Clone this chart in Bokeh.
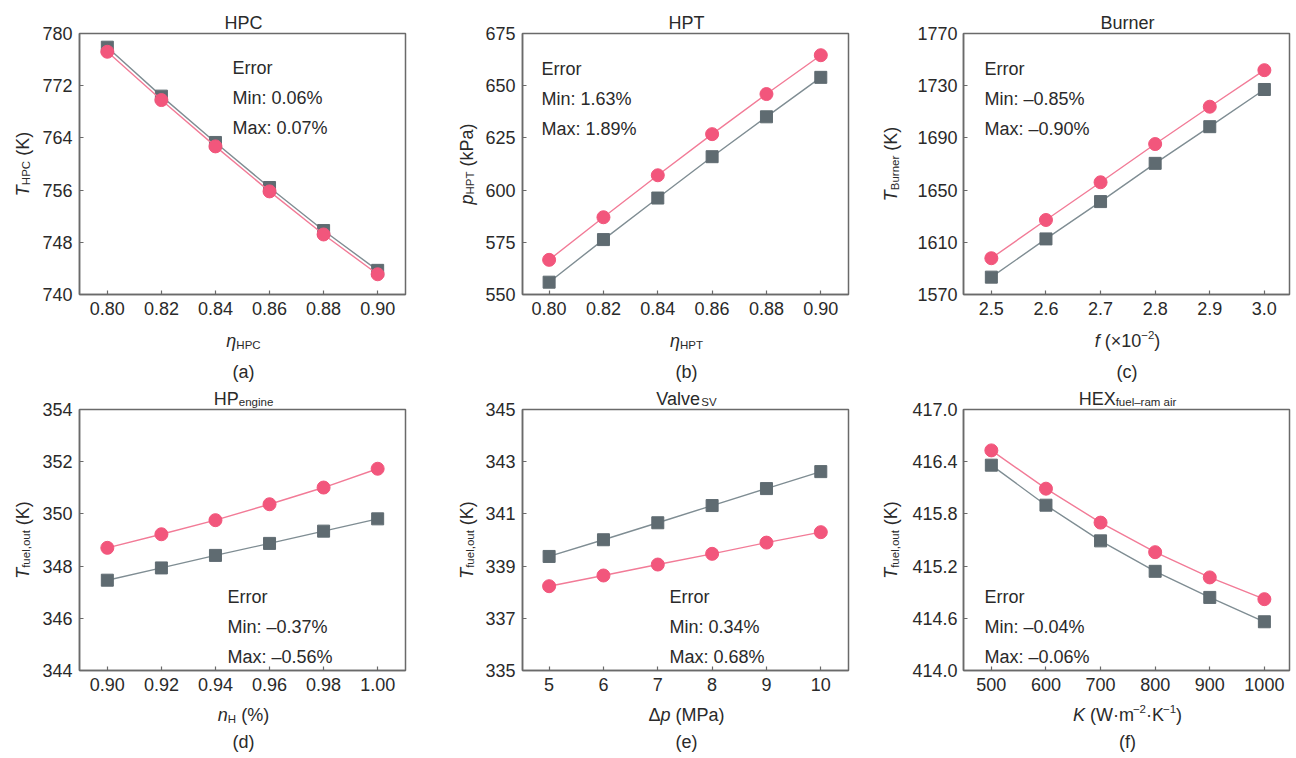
import math

from bokeh.embed import file_html
from bokeh.layouts import column, row
from bokeh.models import FixedTicker, Label, LinearAxis, NumeralTickFormatter, Range1d
from bokeh.plotting import figure
from bokeh.resources import INLINE

# ---------------------------------------------------------------- data
# (a) high-pressure compressor outlet temperature vs. efficiency
hpc_eta = [0.80, 0.82, 0.84, 0.86, 0.88, 0.90]
hpc_calc = [777.9, 770.4, 763.3, 756.4, 749.8, 743.7]
hpc_meas = [777.2, 769.8, 762.7, 755.8, 749.2, 743.1]

# (b) high-pressure turbine pressure vs. efficiency
hpt_eta = [0.80, 0.82, 0.84, 0.86, 0.88, 0.90]
hpt_calc = [555.9, 576.3, 596.2, 616.0, 635.1, 654.0]
hpt_meas = [566.6, 587.0, 607.1, 626.8, 646.0, 664.6]

# (c) burner temperature vs. fuel-air ratio (x 10^-2)
burner_f = [2.5, 2.6, 2.7, 2.8, 2.9, 3.0]
burner_calc = [1583.3, 1612.6, 1641.2, 1670.5, 1698.6, 1727.1]
burner_meas = [1597.8, 1627.1, 1656.0, 1685.3, 1713.9, 1741.9]

# (d) engine heat pump: fuel outlet temperature vs. n_H
hp_n = [0.90, 0.92, 0.94, 0.96, 0.98, 1.00]
hp_calc = [347.46, 347.93, 348.41, 348.87, 349.34, 349.81]
hp_meas = [348.70, 349.22, 349.76, 350.37, 351.01, 351.73]

# (e) servo valve: fuel outlet temperature vs. pressure drop
valve_dp = [5, 6, 7, 8, 9, 10]
valve_calc = [339.37, 340.01, 340.66, 341.32, 341.97, 342.62]
valve_meas = [338.23, 338.64, 339.06, 339.47, 339.90, 340.30]

# (f) fuel / ram-air heat exchanger: fuel outlet temperature vs. K
hex_k = [500, 600, 700, 800, 900, 1000]
hex_calc = [416.36, 415.90, 415.49, 415.14, 414.84, 414.56]
hex_meas = [416.53, 416.09, 415.70, 415.36, 415.07, 414.82]

# axis ticks
hpc_yticks = [740, 748, 756, 764, 772, 780]
hpt_yticks = [550, 575, 600, 625, 650, 675]
burner_yticks = [1570, 1610, 1650, 1690, 1730, 1770]
hp_yticks = [344, 346, 348, 350, 352, 354]
valve_yticks = [335, 337, 339, 341, 343, 345]
hex_yticks = [414.0, 414.6, 415.2, 415.8, 416.4, 417.0]

# error annotations
hpc_err = ["Error", "Min: 0.06%", "Max: 0.07%"]
hpt_err = ["Error", "Min: 1.63%", "Max: 1.89%"]
burner_err = ["Error", "Min: \u20130.85%", "Max: \u20130.90%"]
hp_err = ["Error", "Min: \u20130.37%", "Max: \u20130.56%"]
valve_err = ["Error", "Min: 0.34%", "Max: 0.68%"]
hex_err = ["Error", "Min: \u20130.04%", "Max: \u20130.06%"]

# ---------------------------------------------------------------- style
FONT = "Liberation Sans"
FS = 18            # main text size (px)
SS = 11.5          # sub/superscript size (px)
TXT = "#2a2a2a"
FRAME = "#6a6a6a"
PINK = "#f2567c"
PINK_LINE = "#f27b97"
GRAY = "#5f6b71"
GRAY_LINE = "#7f8d93"

PAGE_H = 758
FW, FH = 326, 261          # plot frame size
MAIN_TOP, MAIN_BOTTOM = 1, 27
MAIN_H = MAIN_TOP + FH + MAIN_BOTTOM
FRAME_TOPS = (33, 409)     # top edge of the frames in each row
YAX_SPLIT = 350            # where the tick-label columns of the two rows meet

# Arial / Liberation Sans advance widths (per 1000 em)
ADV = {" ": 278, "(": 333, ")": 333, "%": 889, ",": 278, ".": 278, ":": 278,
       "A": 667, "B": 667, "C": 722, "E": 667, "H": 722, "K": 667, "M": 833,
       "P": 667, "S": 667, "T": 611, "V": 667, "W": 944, "X": 667,
       "a": 556, "e": 556, "f": 278, "g": 556, "i": 222, "k": 500, "l": 222,
       "m": 833, "n": 556, "o": 556, "p": 556, "r": 333, "s": 500, "t": 278,
       "u": 556, "v": 500, "\u03b7": 556, "\u0394": 668, "\u00b7": 278,
       "\u2212": 584, "\u00d7": 584, "\u2013": 556}

SHIFT = {"sub": -3.5, "sup": 6.5}


def run_size(kind):
    return SS if kind in ("sub", "sup") else FS


def run_width(text, kind):
    return sum(ADV.get(ch, 556) for ch in text) * run_size(kind) / 1000.0


def add_run(s, text, kind, x, y, angle=0.0):
    s.add_layout(Label(
        x=x, y=y, x_units="screen", y_units="screen", text=text, angle=angle,
        text_font=FONT, text_font_size=f"{run_size(kind)}px",
        text_font_style="italic" if kind == "i" else "normal",
        text_color=TXT, text_align="left", text_baseline="alphabetic"))


def split_lead(text, kind):
    """Leading blanks are not drawn; return their width and the visible text."""
    body = text.lstrip(" ")
    return run_width(text[:len(text) - len(body)], kind), body


def rich_h(s, runs, cx, base):
    """Horizontal text built from styled runs, centred on cx."""
    widths = [run_width(t, k) for t, k in runs]
    x = cx - sum(widths) / 2
    for (t, k), w in zip(runs, widths):
        lead, body = split_lead(t, k)
        add_run(s, body, k, x + lead, base + SHIFT.get(k, 0))
        x += w


def rich_v(s, runs, base, cy):
    """Bottom-to-top text built from styled runs, centred on cy."""
    widths = [run_width(t, k) for t, k in runs]
    y = cy - sum(widths) / 2
    for (t, k), w in zip(runs, widths):
        lead, body = split_lead(t, k)
        add_run(s, body, k, base - SHIFT.get(k, 0), y + lead, angle=math.pi / 2)
        y += w


def blank(w, h, **kw):
    fig = figure(width=w, height=h, output_backend="svg",
                 toolbar_location=None, tools="",
                 x_axis_location=None, y_axis_location=None, **kw)
    fig.title.visible = False
    fig.xgrid.visible = False
    fig.ygrid.visible = False
    fig.outline_line_color = None
    fig.background_fill_color = "white"
    fig.border_fill_color = "white"
    return fig


def strip(w, h):
    """Axis-free text area; its frame fills the whole figure."""
    return blank(w, h, x_range=Range1d(0, w), y_range=Range1d(0, h),
                 min_border=0, min_border_left=0, min_border_right=0,
                 min_border_top=0, min_border_bottom=0)


def style_axis(ax, ticks, fmt):
    ax.ticker = FixedTicker(ticks=ticks)
    ax.formatter = NumeralTickFormatter(format=fmt)
    ax.minor_tick_line_color = None
    ax.major_label_text_font = FONT
    ax.major_label_text_font_size = f"{FS}px"
    ax.major_label_text_color = TXT


def tick_labels(yr, yticks, yfmt, width, height, top):
    """Column holding the y tick labels of one panel, level with its frame."""
    fig = blank(width, height, x_range=Range1d(0, 1), y_range=yr,
                min_border_left=width - 1, min_border_right=0,
                min_border_top=top, min_border_bottom=height - top - FH)
    axis = LinearAxis()
    style_axis(axis, yticks, yfmt)
    axis.axis_line_color = None
    axis.major_tick_line_color = None
    axis.major_tick_in = 0
    axis.major_tick_out = 0
    axis.major_label_standoff = 5
    fig.add_layout(axis, "left")
    return fig


def main_plot(width, x, calc, meas, xr, yr, xticks, yticks, xfmt, yfmt, err, err_pos):
    p = figure(width=width, height=MAIN_H, x_range=Range1d(*xr),
               y_range=yr, output_backend="svg",
               toolbar_location=None, tools="",
               min_border_left=1, min_border_right=width - 1 - FW,
               min_border_top=MAIN_TOP, min_border_bottom=MAIN_BOTTOM)
    p.title.visible = False
    p.xgrid.visible = False
    p.ygrid.visible = False
    p.outline_line_color = FRAME
    p.outline_line_width = 1.5
    p.background_fill_color = "white"
    p.border_fill_color = "white"

    for ax, ticks, fmt in ((p.xaxis[0], xticks, xfmt), (p.yaxis[0], yticks, yfmt)):
        style_axis(ax, ticks, fmt)
        ax.axis_line_color = FRAME
        ax.axis_line_width = 1.5
        ax.major_tick_line_color = FRAME
        ax.major_tick_line_width = 1.2
        ax.major_tick_in = 4
        ax.major_tick_out = 0
    p.xaxis.major_label_standoff = 7
    # this y axis only draws the line and inward ticks; its labels are
    # painted by the tick-label column to the left
    p.yaxis.major_label_text_color = None
    p.yaxis.major_label_text_alpha = 0
    p.yaxis.major_label_text_font_size = "0px"
    p.yaxis.major_label_standoff = 0

    p.line(x, calc, line_color=GRAY_LINE, line_width=1.4)
    p.scatter(x, calc, marker="square", size=12, fill_color=GRAY, line_color=GRAY)
    p.line(x, meas, line_color=PINK_LINE, line_width=1.4)
    p.scatter(x, meas, marker="circle", size=13, fill_color=PINK, line_color=PINK)

    ex, ey = err_pos
    for i, line in enumerate(err):
        p.add_layout(Label(x=ex, y=ey - 30.2 * i, x_units="screen", y_units="screen",
                           text=line, text_font=FONT, text_font_size=f"{FS}px",
                           text_color=TXT, text_baseline="alphabetic"))
    return p


T_FUEL = [("T", "i"), ("fuel,out", "sub"), (" (K)", "n")]

top_panels = [
    dict(plot=(hpc_eta, hpc_calc, hpc_meas, (0.7897, 0.9103), (740, 780),
               hpc_eta, hpc_yticks, "0.00", "0", hpc_err, (153, 227)),
         title=[("HPC", "n")], xlabel=[("\u03b7", "i"), ("HPC", "sub")],
         ylabel=[("T", "i"), ("HPC", "sub"), (" (K)", "n")], caption="(a)"),
    dict(plot=(hpt_eta, hpt_calc, hpt_meas, (0.7902, 0.9102), (550, 675),
               hpt_eta, hpt_yticks, "0.00", "0", hpt_err, (19, 226)),
         title=[("HPT", "n")], xlabel=[("\u03b7", "i"), ("HPT", "sub")],
         ylabel=[("p", "i"), ("HPT", "sub"), (" (kPa)", "n")], caption="(b)"),
    dict(plot=(burner_f, burner_calc, burner_meas, (2.449, 3.046), (1570, 1770),
               burner_f, burner_yticks, "0.0", "0", burner_err, (21, 226)),
         title=[("Burner", "n")],
         xlabel=[("f", "i"), (" (\u00d710", "n"), ("\u22122", "sup"), (")", "n")],
         ylabel=[("T", "i"), ("Burner", "sub"), (" (K)", "n")], caption="(c)"),
]

bottom_panels = [
    dict(plot=(hp_n, hp_calc, hp_meas, (0.8897, 1.0103), (344, 354),
               hp_n, hp_yticks, "0.00", "0", hp_err, (148, 74)),
         title=[("HP", "n"), ("engine", "sub")],
         xlabel=[("n", "i"), ("H", "sub"), (" (%)", "n")],
         ylabel=T_FUEL, caption="(d)"),
    dict(plot=(valve_dp, valve_calc, valve_meas, (4.51, 10.51), (335, 345),
               valve_dp, valve_yticks, "0", "0", valve_err, (147, 74)),
         title=[("Valve", "n"), ("SV", "sub")],
         xlabel=[("\u0394", "n"), ("p", "i"), (" (MPa)", "n")],
         ylabel=T_FUEL, caption="(e)"),
    dict(plot=(hex_k, hex_calc, hex_meas, (449, 1046), (414.0, 417.0),
               hex_k, hex_yticks, "0", "0.0", hex_err, (21, 74)),
         title=[("HEX", "n"), ("fuel\u2013ram air", "sub")],
         xlabel=[("K", "i"), (" (W\u00b7m", "n"), ("\u22122", "sup"), ("\u00b7K", "n"),
                 ("\u22121", "sup"), (")", "n")],
         ylabel=T_FUEL, caption="(f)"),
]

# each 432 px column: (y-label strip width, y-label baseline, tick-label column width)
COLS = [(39, 22, 39), (50, 34, 39), (46, 26.5, 52)]


def panel_column(spec, top, bottom):
    ylw, ylb, tlw = spec
    pw = 432 - ylw - tlw           # width of the plots and their text bands
    cx = 1 + FW / 2                # frame centre inside that width

    ylab = strip(ylw, PAGE_H)
    for pnl, ftop in ((top, FRAME_TOPS[0]), (bottom, FRAME_TOPS[1])):
        rich_v(ylab, pnl["ylabel"], ylb, PAGE_H - ftop - FH / 2)

    figs, ticks = [], []
    for pnl, y0, y1, ftop in ((top, 0, YAX_SPLIT, FRAME_TOPS[0]),
                              (bottom, YAX_SPLIT, PAGE_H, FRAME_TOPS[1])):
        x, calc, meas, xr, yr, xticks, yticks, xfmt, yfmt, err, err_pos = pnl["plot"]
        yrange = Range1d(*yr)
        ticks.append(tick_labels(yrange, yticks, yfmt, tlw, y1 - y0, ftop - y0))
        figs.append(main_plot(pw, x, calc, meas, xr, yrange, xticks, yticks,
                              xfmt, yfmt, err, err_pos))

    top_h = FRAME_TOPS[0] - MAIN_TOP
    mid_h = FRAME_TOPS[1] - FRAME_TOPS[0] - MAIN_H
    bot_h = PAGE_H - top_h - mid_h - 2 * MAIN_H

    band_top = strip(pw, top_h)
    rich_h(band_top, top["title"], cx, 10)
    band_mid = strip(pw, mid_h)
    rich_h(band_mid, top["xlabel"], cx, 67.3)
    rich_h(band_mid, [(top["caption"], "n")], cx, 36.5)
    rich_h(band_mid, bottom["title"], cx, 10)
    band_bot = strip(pw, bot_h)
    rich_h(band_bot, bottom["xlabel"], cx, 43.4)
    rich_h(band_bot, [(bottom["caption"], "n")], cx, 16.5)

    return row(ylab, column(*ticks),
               column(band_top, figs[0], band_mid, figs[1], band_bot))


layout = row(*[panel_column(spec, t, b)
               for spec, t, b in zip(COLS, top_panels, bottom_panels)])

with open("out.html", "w") as fh:
    fh.write(file_html(layout, INLINE, title="Component validation"))
